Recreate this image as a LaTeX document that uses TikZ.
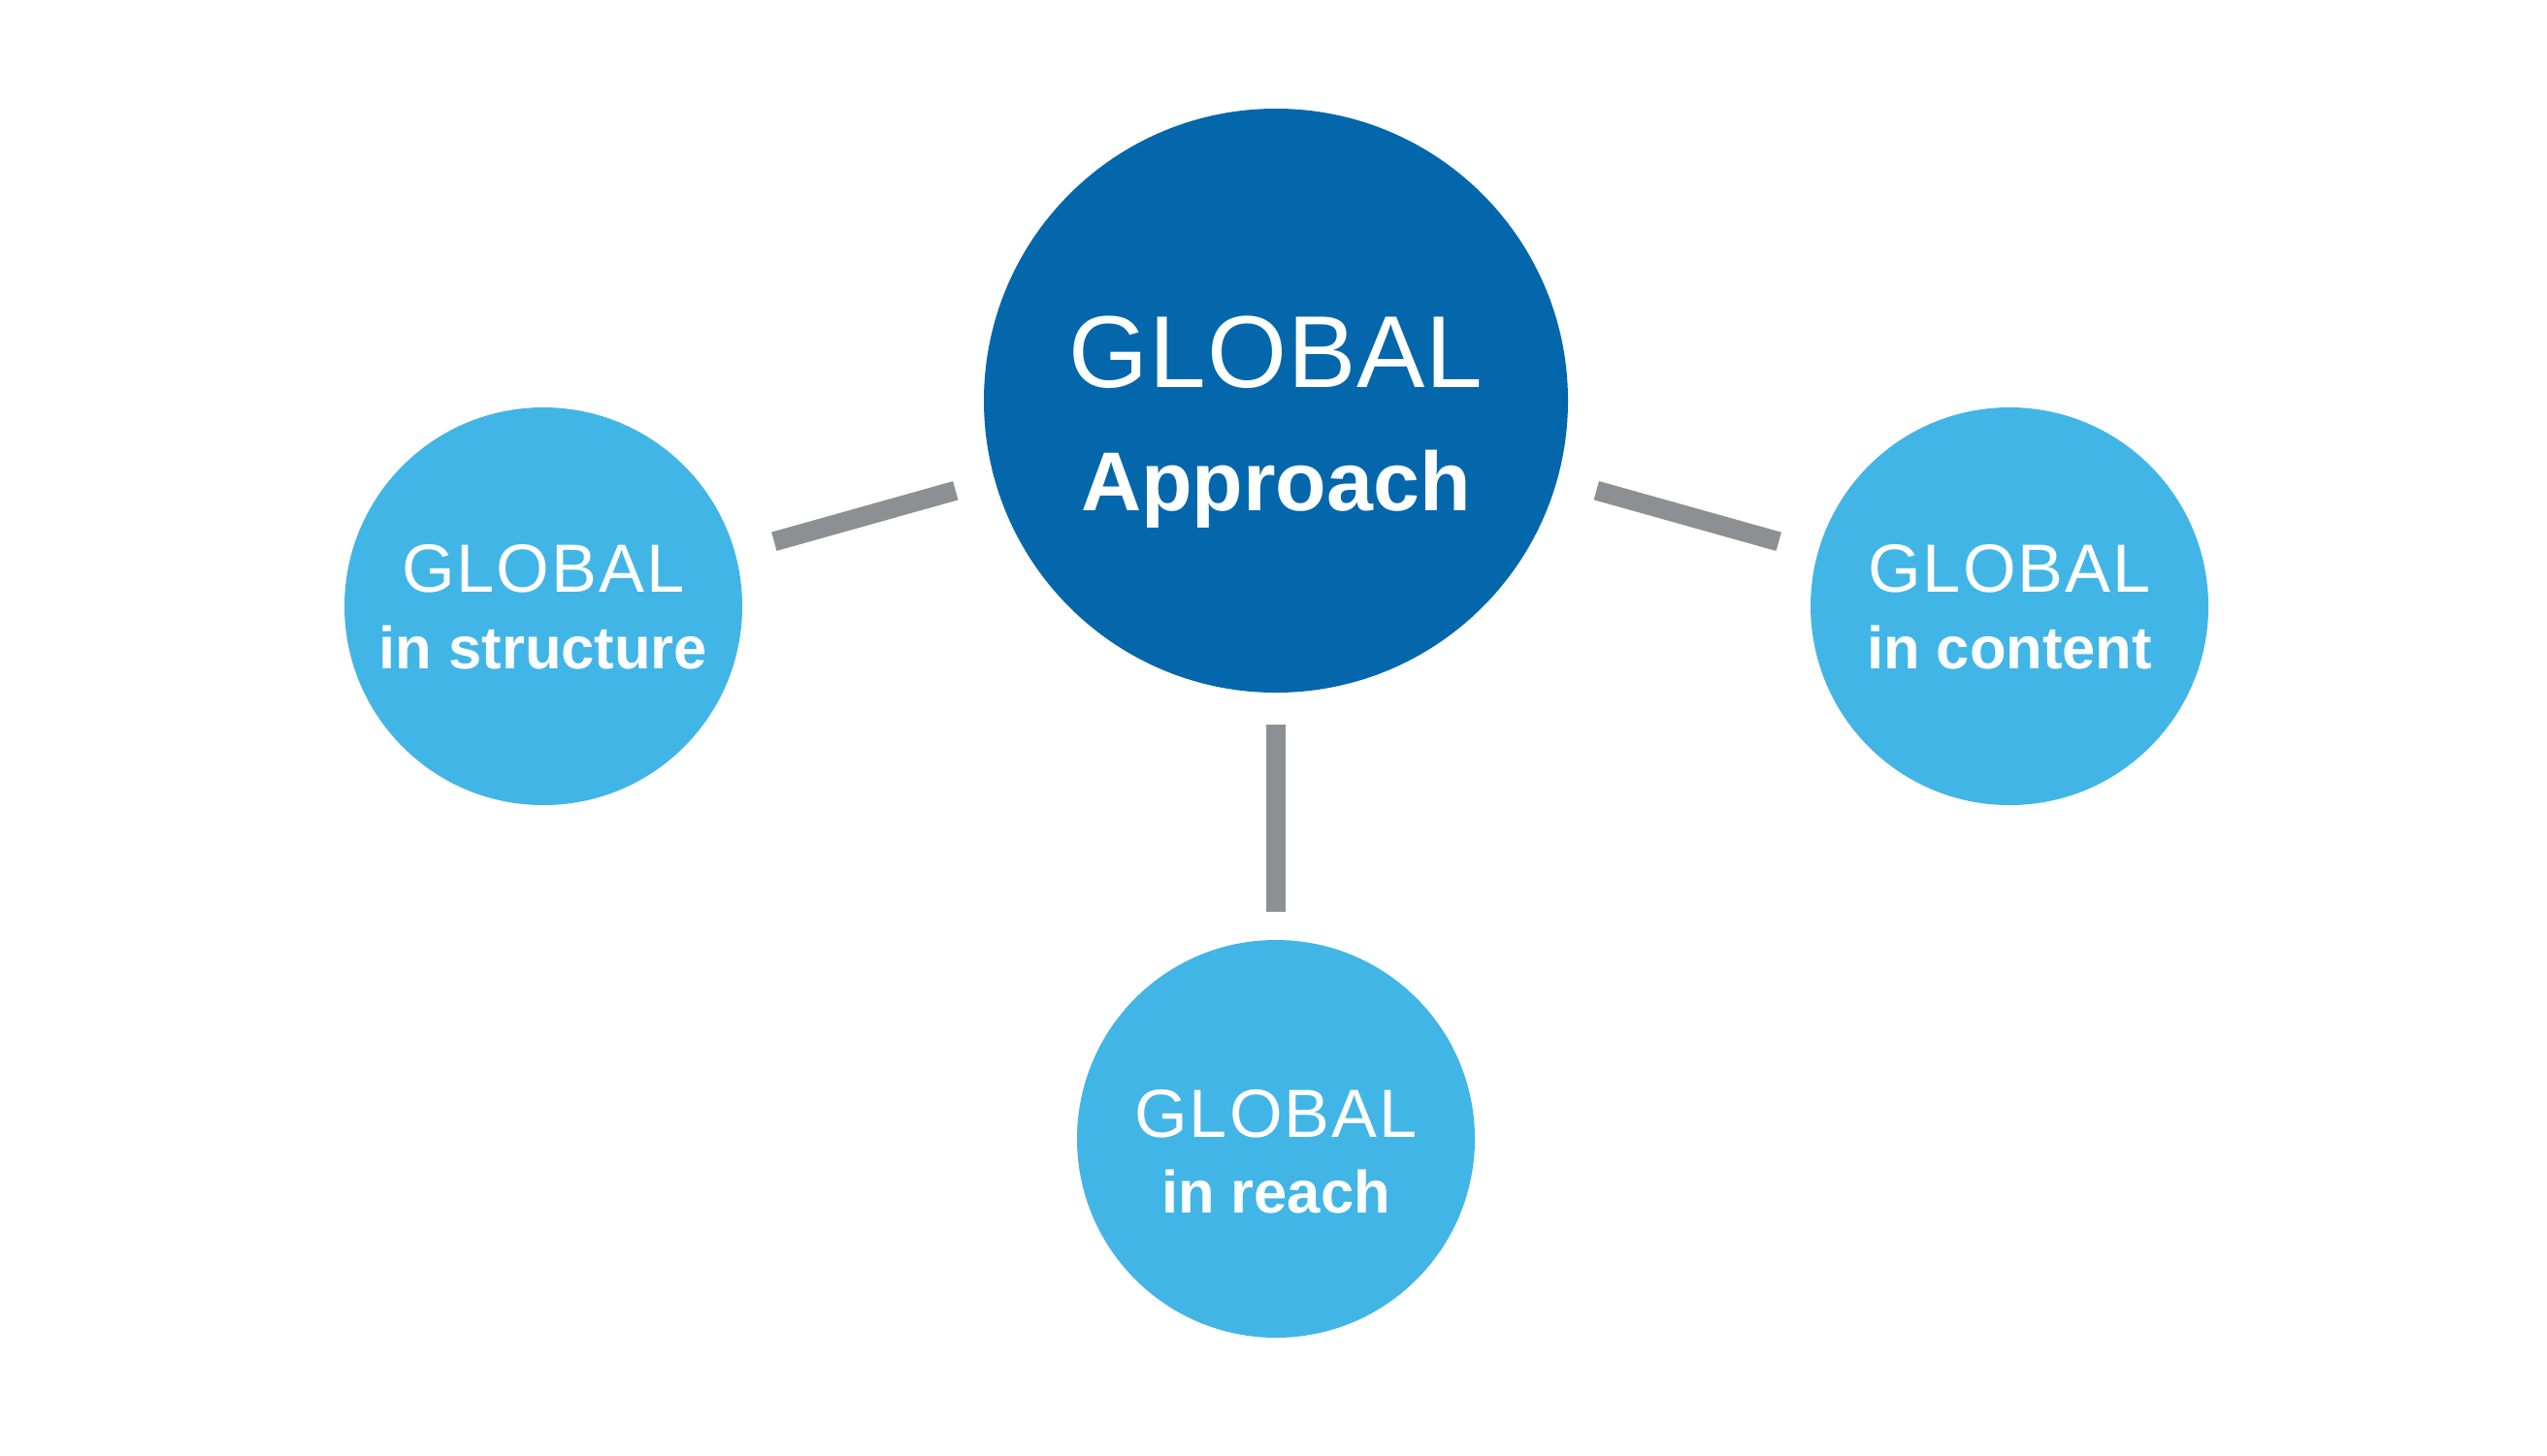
\documentclass[tikz,border=0pt]{standalone}
\usepackage{fontspec}
\setmainfont{Liberation Sans}
\definecolor{hubblue}{HTML}{0467AC}
\definecolor{spokeblue}{HTML}{42B5E7}
\definecolor{linkgray}{HTML}{8E8F92}
\tikzset{
  hb/.style={circle, minimum size=6.02cm, inner sep=0pt, outer sep=0pt, fill=hubblue},
  sc/.style={circle, minimum size=4.1cm, inner sep=0pt, outer sep=0pt, fill=spokeblue},
  ln/.style={draw=linkgray, line width=0.2cm, shorten <=0.42cm, shorten >=0.42cm},
  tw/.style={anchor=base, inner sep=0pt, text=white},
  hbtop/.style={tw, font=\fontsize{30}{36}\selectfont\addfontfeatures{LetterSpace=1}},
  hbsub/.style={tw, font=\fontsize{24.5}{29}\selectfont\bfseries},
  sctop/.style={tw, font=\fontsize{20}{24}\selectfont\addfontfeatures{LetterSpace=3}},
  scsub/.style={tw, font=\fontsize{17.5}{21}\selectfont\bfseries}
}
\begin{document}
\begin{tikzpicture}
	\useasboundingbox[fill=white] (0cm,0cm) rectangle (26.25cm,-15cm);
	% circles
	\node[hb] (main) at (13.15cm,-4.13cm) {};
	\node[sc] (struct) at (5.60cm,-6.25cm) {};
	\node[sc] (content) at (20.71cm,-6.25cm) {};
	\node[sc] (reach) at (13.15cm,-11.74cm) {};
	% links
	\draw[ln] (struct) -- (main);
	\draw[ln] (main) -- (content);
	\draw[ln, shorten <=0.33cm, shorten >=0.29cm] (main) -- (reach);
	% labels
	\node[hbtop] (mainA) at (13.15cm,-3.99cm) {GLOBAL};
	\node[hbsub] (mainB) at (13.15cm,-5.26cm) {Approach};
	\node[sctop] (structA) at (5.60cm,-6.10cm) {GLOBAL};
	\node[scsub] (structB) at (5.60cm,-6.89cm) {in structure};
	\node[sctop] (contentA) at (20.71cm,-6.10cm) {GLOBAL};
	\node[scsub] (contentB) at (20.71cm,-6.89cm) {in content};
	\node[sctop] (reachA) at (13.15cm,-11.72cm) {GLOBAL};
	\node[scsub] (reachB) at (13.15cm,-12.50cm) {in reach};
\end{tikzpicture}
\end{document}
